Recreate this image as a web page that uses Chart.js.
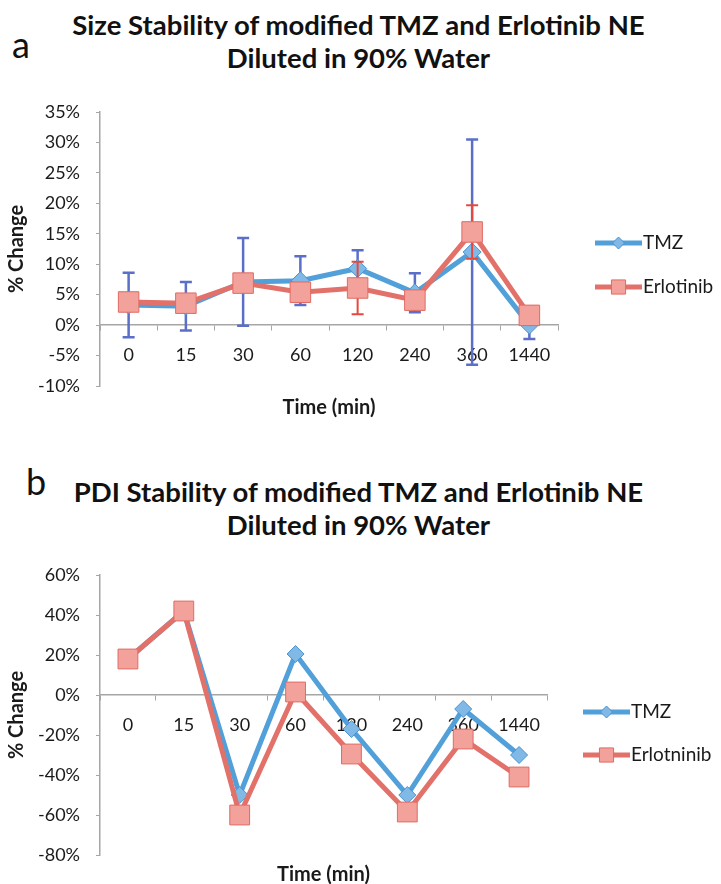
<!DOCTYPE html>
<html>
<head>
<meta charset="utf-8">
<script src="https://cdn.jsdelivr.net/npm/chart.js@4/dist/chart.umd.min.js"></script>
<style>
  html, body { margin: 0; padding: 0; background: #fff; width: 721px; height: 884px; overflow: hidden; }
  .title { position: absolute; left: -2px; width: 721px; text-align: center; font: bold 27.5px Lato, sans-serif; color: #111; line-height: 33px; }
  .letter { position: absolute; font: 36px Lato, sans-serif; line-height: 36px; color: #111; }
  canvas { position: absolute; left: 0; }
</style>
</head>
<body>
<div class="letter" style="left:12px; top:26px;">a</div>
<div class="title" style="top:8px;">Size Stability of modified TMZ and Erlotinib NE<br>Diluted in 90% Water</div>
<canvas id="sizeChart" width="721" height="440" style="top:0;"></canvas>

<div class="letter" style="left:26px; top:463px;">b</div>
<div class="title" style="top:475px;">PDI Stability of modified TMZ and Erlotinib NE<br>Diluted in 90% Water</div>
<canvas id="pdiChart" width="721" height="448" style="top:440px;"></canvas>

<script>
// Sampling times (min)
const timePoints = ['0', '15', '30', '60', '120', '240', '360', '1440'];

// Panel a: size change (%) with standard deviations
const sizeTMZ = [3.3, 3.1, 7.1, 7.3, 9.3, 5.3, 12.0, 0.0];
const sizeTMZErr = [5.3, 4.0, 7.2, 4.0, 3.0, 3.2, 18.5, 2.3];
const sizeErlotinib = [3.8, 3.6, 6.9, 5.4, 6.1, 4.1, 15.3, 1.6];
const sizeErlotinibErr = [1.0, 1.0, 1.0, 1.5, 4.3, 1.0, 4.4, 1.0];
const sizeTicks = { min: -10, max: 35, step: 5 };

// Panel b: PDI change (%)
const pdiTMZ = [18, 42, -50, 20.5, -17, -50, -7, -30];
const pdiErlotinib = [18, 42, -60, 1.5, -29.5, -58.5, -22, -41];
const pdiTicks = { min: -80, max: 60, step: 20 };

const BLUE = '#52a0da', BLUE_FILL = '#80b9e6', BLUE_EDGE = '#4a92cf';
const RED = '#e2716a', RED_FILL = '#f3a19b', RED_EDGE = '#e06b64';
const AXIS = '#a6a6a6', TEXT = '#1a1a1a';
const FONT = 'Lato, sans-serif';

function markerPath(ctx, style, x, y, r) {
  ctx.beginPath();
  if (style === 'rect') {
    const s = r * Math.SQRT1_2;
    ctx.rect(x - s, y - s, 2 * s, 2 * s);
  } else {
    ctx.moveTo(x - r, y); ctx.lineTo(x, y - r); ctx.lineTo(x + r, y); ctx.lineTo(x, y + r);
    ctx.closePath();
  }
}

// Vertical error bars, drawn just before their series so markers sit on top
const errorBars = {
  id: 'errorBars',
  beforeDatasetDraw(chart, args) {
    const ds = chart.data.datasets[args.index];
    if (!ds.errors) return;
    const yScale = chart.scales.y, ctx = chart.ctx;
    ctx.save();
    ctx.strokeStyle = ds.errorColor;
    ctx.lineWidth = ds.errorWidth;
    args.meta.data.forEach((pt, j) => {
      const v = ds.data[j], e = ds.errors[j];
      const top = yScale.getPixelForValue(v + e), bot = yScale.getPixelForValue(v - e);
      const x = pt.x, cap = 6;
      ctx.beginPath();
      ctx.moveTo(x, top); ctx.lineTo(x, bot);
      ctx.moveTo(x - cap, top); ctx.lineTo(x + cap, top);
      ctx.moveTo(x - cap, bot); ctx.lineTo(x + cap, bot);
      ctx.stroke();
    });
    ctx.restore();
  }
};

// Legend drawn as line-with-marker swatches to the right of the plot
const lineLegend = {
  id: 'lineLegend',
  afterDraw(chart, args, o) {
    const ctx = chart.ctx;
    chart.data.datasets.forEach((ds, i) => {
      const y = o.y[i], x0 = o.x, x1 = o.x + o.len;
      ctx.save();
      ctx.strokeStyle = ds.borderColor;
      ctx.lineWidth = ds.borderWidth;
      ctx.beginPath(); ctx.moveTo(x0, y); ctx.lineTo(x1, y); ctx.stroke();
      markerPath(ctx, ds.pointStyle, (x0 + x1) / 2, y, o.r[i]);
      ctx.fillStyle = ds.pointBackgroundColor; ctx.fill();
      ctx.strokeStyle = ds.pointBorderColor; ctx.lineWidth = 1; ctx.stroke();
      ctx.fillStyle = TEXT;
      ctx.font = '19px ' + FONT;
      ctx.textBaseline = 'middle';
      ctx.fillText(ds.label, x1 + 1, y);
      ctx.restore();
    });
  }
};

function series(label, data, color, fill, edge, style, radius, order, extra) {
  return Object.assign({
    label, data, order,
    borderColor: color, borderWidth: 5,
    pointStyle: style, pointRadius: radius,
    pointBackgroundColor: fill, pointBorderColor: edge, pointBorderWidth: 1,
    tension: 0, fill: false
  }, extra || {});
}

function makeChart(id, datasets, ticks, pad, legend) {
  return new Chart(document.getElementById(id), {
    type: 'line',
    data: { labels: timePoints, datasets },
    plugins: [errorBars, lineLegend],
    options: {
      responsive: false,
      animation: false,
      layout: { padding: pad },
      plugins: {
        legend: { display: false },
        title: { display: false },
        tooltip: { enabled: false },
        lineLegend: legend
      },
      scales: {
        x: {
          type: 'category',
          position: { y: 0 },
          offset: true,
          grid: { display: true, drawOnChartArea: false, drawTicks: true, tickLength: 5, color: AXIS, offset: true },
          border: { display: true, color: AXIS, width: 1.5 },
          ticks: { color: TEXT, font: { family: FONT, size: 18 }, padding: legend.tickGap, maxRotation: 0, autoSkip: false }
        },
        // carries only the axis title, placed under the plot area
        xTitle: {
          type: 'category',
          position: 'bottom',
          grid: { display: false },
          border: { display: false },
          ticks: { display: false },
          title: { display: true, text: 'Time (min)', color: TEXT, font: { family: FONT, size: 20, weight: 'bold' }, padding: { top: legend.titleGap, bottom: 0 } }
        },
        y: {
          min: ticks.min, max: ticks.max,
          grid: { display: true, drawOnChartArea: false, drawTicks: true, tickLength: 4, color: AXIS },
          border: { display: true, color: AXIS, width: 1.5 },
          ticks: { stepSize: ticks.step, color: TEXT, font: { family: FONT, size: 18 }, padding: 16, callback: v => v + '%' },
          title: { display: true, text: '% Change', color: TEXT, font: { family: FONT, size: 20, weight: 'bold' }, padding: { top: 5, bottom: 0 } },
          afterFit: s => { s.width = 100; }
        }
      }
    }
  });
}

makeChart('sizeChart', [
  series('TMZ', sizeTMZ, BLUE, BLUE_FILL, BLUE_EDGE, 'rectRot', 9, 2,
    { errors: sizeTMZErr, errorColor: '#5b6fc9', errorWidth: 2.5 }),
  series('Erlotinib', sizeErlotinib, RED, RED_FILL, RED_EDGE, 'rect', 14.5, 1,
    { errors: sizeErlotinibErr, errorColor: '#e6483e', errorWidth: 2 })
], sizeTicks, { top: 112, bottom: 20, left: 0, right: 163 },
  { x: 595, len: 47, y: [243, 287], r: [6, 10], titleGap: 2, tickGap: 14 });

makeChart('pdiChart', [
  series('TMZ', pdiTMZ, BLUE, BLUE_FILL, BLUE_EDGE, 'rectRot', 8.5, 2),
  series('Erlotninib', pdiErlotinib, RED, RED_FILL, RED_EDGE, 'rect', 14, 1)
], pdiTicks, { top: 135, bottom: 1, left: 0, right: 174 },
  { x: 583, len: 47, y: [272, 315], r: [6, 10], titleGap: 0, tickGap: 14 });
</script>
</body>
</html>
